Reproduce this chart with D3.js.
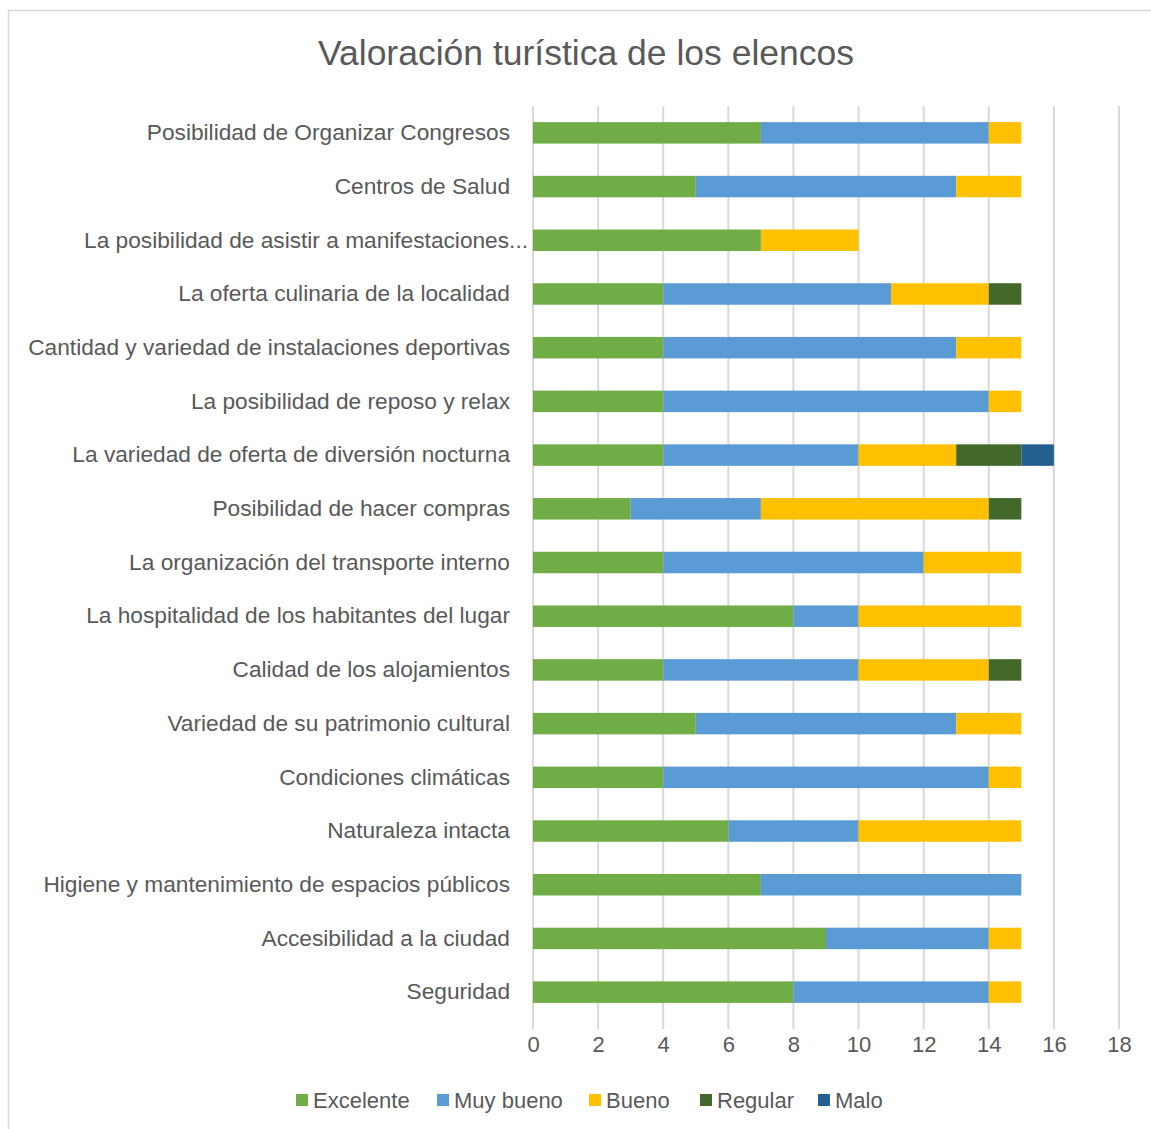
<!DOCTYPE html>
<html><head><meta charset="utf-8">
<script src="https://cdn.jsdelivr.net/npm/d3@7"></script>
<style>
html,body{margin:0;padding:0;background:#fff;}
svg text{font-family:"Liberation Sans Narrow","Liberation Sans",sans-serif;fill:#595959;}
</style></head>
<body><svg id="c" width="1151" height="1129"></svg>
<script>
const title = "Valoración turística de los elencos";
const categories = [
  "Posibilidad de Organizar Congresos",
  "Centros de Salud",
  "La posibilidad de asistir a manifestaciones...",
  "La oferta culinaria de la localidad",
  "Cantidad y variedad de instalaciones deportivas",
  "La posibilidad de reposo y relax",
  "La variedad de oferta de diversión nocturna",
  "Posibilidad de hacer compras",
  "La organización del transporte interno",
  "La hospitalidad de los habitantes del lugar",
  "Calidad de los alojamientos",
  "Variedad de su patrimonio cultural",
  "Condiciones climáticas",
  "Naturaleza intacta",
  "Higiene y mantenimiento de espacios públicos",
  "Accesibilidad a la ciudad",
  "Seguridad"
];
const seriesNames = ["Excelente","Muy bueno","Bueno","Regular","Malo"];
const excelente = [7,5,7,4,4,4,4,3,4,8,4,5,4,6,7,9,8];
const muyBueno  = [7,8,0,7,9,10,6,4,8,2,6,8,10,4,8,5,6];
const bueno     = [1,2,3,3,2,1,3,7,3,5,4,2,1,5,0,1,1];
const regular   = [0,0,0,1,0,0,2,1,0,0,1,0,0,0,0,0,0];
const malo      = [0,0,0,0,0,0,1,0,0,0,0,0,0,0,0,0,0];
const xTicks = [0,2,4,6,8,10,12,14,16,18];
const colors = ["#70AD47","#5B9BD5","#FFC000","#43682B","#255E91"];

const rows = categories.map((c,i)=>({cat:c, "Excelente":excelente[i], "Muy bueno":muyBueno[i], "Bueno":bueno[i], "Regular":regular[i], "Malo":malo[i]}));
const stack = d3.stack().keys(seriesNames)(rows);

const svg = d3.select("#c");
svg.append("rect").attr("x",8.5).attr("y",10.5).attr("width",1200).attr("height",1200)
  .attr("fill","#fff").attr("stroke","#d9d9d9").attr("stroke-width",1.5);

const x = d3.scaleLinear().domain([0,18]).range([533,1119]);
const y = d3.scaleBand().domain(categories).range([106,1019]).paddingInner(0.6).paddingOuter(0.3);

// gridlines
svg.append("g").selectAll("line").data(xTicks).join("line")
  .attr("x1",d=>x(d)).attr("x2",d=>x(d)).attr("y1",106).attr("y2",1029)
  .attr("stroke","#d9d9d9").attr("stroke-width",2);

// bars
svg.append("g").selectAll("g").data(stack).join("g")
  .attr("fill",(d,i)=>colors[i])
  .selectAll("rect").data(d=>d.filter(p=>p[1]-p[0]>0)).join("rect")
  .attr("x",d=>x(d[0])).attr("width",d=>x(d[1])-x(d[0]))
  .attr("y",d=>y(d.data.cat)).attr("height",y.bandwidth());

// x axis labels
const xa = d3.axisBottom(x).tickValues(xTicks).tickSize(0).tickPadding(0);
const gx = svg.append("g").attr("transform","translate(0,1036)").call(xa);
gx.select(".domain").remove();
gx.selectAll("text").attr("font-size",22).attr("dy","0.71em").attr("fill","#595959")
  .style("font-family","'Liberation Sans Narrow',sans-serif");

// y axis labels
const ya = d3.axisLeft(y).tickSize(0).tickPadding(0);
const gy = svg.append("g").attr("transform","translate(510,0)").call(ya);
gy.select(".domain").remove();
gy.selectAll("text").attr("font-size",22.7).attr("fill","#595959")
  .style("font-family","'Liberation Sans Narrow',sans-serif")
  .attr("x",d=>d.endsWith("...")?18:0);

// title
svg.append("text").attr("x",586).attr("y",65).attr("text-anchor","middle")
  .attr("font-size",35.5).text(title);

// legend
const legX = [296,437,589,700,818];
const leg = svg.append("g").selectAll("g").data(seriesNames).join("g")
  .attr("transform",(d,i)=>`translate(${legX[i]},1100)`);
leg.append("rect").attr("x",0).attr("y",-6).attr("width",12).attr("height",12).attr("fill",(d,i)=>colors[i]);
leg.append("text").attr("x",17).attr("y",0).attr("dy","0.35em").attr("font-size",22).text(d=>d);
</script></body></html>
